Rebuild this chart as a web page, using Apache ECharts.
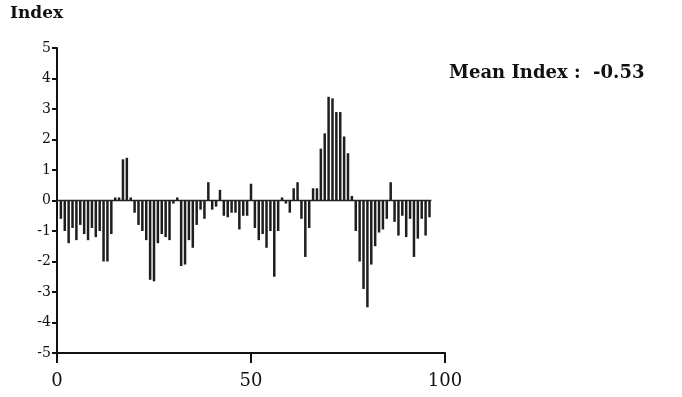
<!DOCTYPE html>
<html><head><meta charset="utf-8">
<script src="https://cdn.jsdelivr.net/npm/echarts@6/dist/echarts.min.js"></script>
<style>html,body{margin:0;padding:0;background:#fff}#c{width:682px;height:397px}</style>
</head><body><div id="c"></div>
<script>
const positions = [];
for (let i = 1; i <= 96; i++) positions.push(i);
const indexValues = [
  -0.6, -1.0, -1.4, -0.9, -1.3, -0.8, -1.1, -1.3, -0.9, -1.2,
  -1.0, -2.0, -2.0, -1.1, 0.1, 0.1, 1.35, 1.4, 0.1, -0.4,
  -0.8, -1.0, -1.3, -2.6, -2.65, -1.4, -1.1, -1.2, -1.3, -0.1,
  0.1, -2.15, -2.1, -1.3, -1.55, -0.8, -0.3, -0.6, 0.6, -0.3,
  -0.2, 0.35, -0.5, -0.55, -0.4, -0.4, -0.95, -0.5, -0.5, 0.55,
  -0.9, -1.3, -1.1, -1.55, -1.0, -2.5, -1.0, 0.1, -0.1, -0.4,
  0.4, 0.6, -0.6, -1.85, -0.9, 0.4, 0.4, 1.7, 2.2, 3.4,
  3.35, 2.9, 2.9, 2.1, 1.55, 0.15, -1.0, -2.0, -2.9, -3.5,
  -2.1, -1.5, -1.05, -0.95, -0.6, 0.6, -0.7, -1.15, -0.5, -1.2,
  -0.6, -1.85, -1.25, -0.6, -1.15, -0.55
];
const xTicks = [0, 50, 100];
const yTicks = [-5, -4, -3, -2, -1, 0, 1, 2, 3, 4, 5];
const yTitle = 'Index';
const meanLabel = 'Mean Index :  -0.53';
const zeroLine = [[0, 0], [96.5, 0]];

const font = 'DejaVu Serif';
const chart = echarts.init(document.getElementById('c'), null, {renderer: 'canvas'});
chart.setOption({
  animation: false,
  backgroundColor: '#fff',
  grid: {left: 57, right: 237, top: 48, bottom: 44, containLabel: false},
  graphic: [
    {type: 'text', left: 10, top: 5, style: {text: yTitle, font: 'bold 17px "DejaVu Serif"', fill: '#111'}},
    {type: 'text', left: 449, top: 64, style: {text: meanLabel, font: 'bold 18px "DejaVu Serif"', fill: '#111'}}
  ],
  xAxis: {
    type: 'value', min: xTicks[0], max: xTicks[xTicks.length - 1], interval: 50,
    axisLine: {show: true, onZero: false, lineStyle: {color: '#111', width: 2}},
    axisTick: {show: true, inside: false, length: 10, lineStyle: {color: '#111', width: 2}},
    axisLabel: {fontFamily: font, fontSize: 18, color: '#111', margin: 19},
    splitLine: {show: false}
  },
  yAxis: {
    type: 'value', min: yTicks[0], max: yTicks[yTicks.length - 1], interval: 1,
    axisLine: {show: true, lineStyle: {color: '#111', width: 2}},
    axisTick: {show: true, inside: false, length: 5, lineStyle: {color: '#111', width: 2}},
    axisLabel: {fontFamily: font, fontSize: 14, color: '#111', margin: 6},
    splitLine: {show: false}
  },
  series: [
    {
      type: 'bar', barWidth: 2.5,
      data: positions.map((p, i) => [p, indexValues[i]]),
      itemStyle: {color: '#1e1e1e'}
    },
    {
      type: 'line', data: zeroLine, symbol: 'none',
      lineStyle: {color: '#222', width: 1.5}, silent: true
    }
  ]
});
</script></body></html>
